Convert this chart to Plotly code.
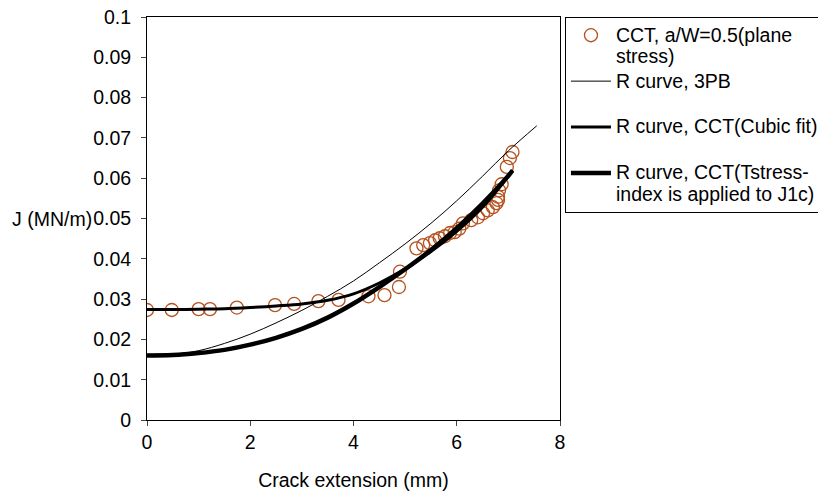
import plotly.graph_objects as go

# Measured data: CCT, a/W=0.5 (plane stress)
cct_x = [0.0, 0.48, 1.0, 1.22, 1.74, 2.48, 2.85, 3.32, 3.71, 4.29, 4.6, 4.88, 4.9,
         5.22, 5.35, 5.48, 5.58, 5.67, 5.77, 5.87, 5.96, 6.05, 6.12, 6.28, 6.41,
         6.51, 6.6, 6.7, 6.77, 6.8, 6.8, 6.82, 6.87, 6.97, 7.03, 7.08]
cct_j = [0.0273, 0.0273, 0.0275, 0.0275, 0.0279, 0.0285, 0.0288, 0.0295, 0.0298,
         0.0307, 0.0310, 0.0330, 0.0368, 0.0426, 0.0434, 0.0439, 0.0446, 0.0451,
         0.0456, 0.0464, 0.0466, 0.0475, 0.0488, 0.0496, 0.0503, 0.0513, 0.0520,
         0.0528, 0.0538, 0.0546, 0.0554, 0.0570, 0.0585, 0.0628, 0.0650, 0.0665]

# R curve, 3PB (thin line)
r3pb_x = [0.0, 0.5, 1.0, 1.5, 2.0, 2.5, 3.0, 3.5, 4.0, 4.5, 5.0, 5.5, 6.0, 6.5, 7.0, 7.55]
r3pb_j = [0.0160, 0.0163, 0.0172, 0.0190, 0.0213, 0.0241, 0.0272, 0.0307, 0.0345,
          0.0390, 0.0437, 0.0488, 0.0544, 0.0605, 0.0668, 0.0730]

# R curve, CCT (cubic fit)
rcub_x = [0.0, 0.5, 1.0, 1.5, 2.0, 2.5, 3.0, 3.5, 4.0, 4.5, 5.0, 5.5, 6.0, 6.5, 7.0, 7.08]
rcub_j = [0.0274, 0.0274, 0.0275, 0.0276, 0.0279, 0.0283, 0.0288, 0.0297, 0.0313,
          0.0340, 0.0375, 0.0418, 0.0468, 0.0528, 0.0605, 0.0620]

# R curve, CCT (T-stress index applied to J1c)
rts_x = [0.0, 0.5, 1.0, 1.5, 2.0, 2.5, 3.0, 3.5, 4.0, 4.5, 5.0, 5.5, 6.0, 6.5, 7.0, 7.08]
rts_j = [0.0160, 0.0161, 0.0166, 0.0174, 0.0187, 0.0204, 0.0226, 0.0254, 0.0289,
         0.0330, 0.0374, 0.0422, 0.0476, 0.0537, 0.0606, 0.0619]

x_ticks = [0, 2, 4, 6, 8]
y_ticks = [0, 0.01, 0.02, 0.03, 0.04, 0.05, 0.06, 0.07, 0.08, 0.09, 0.1]

FONT = "Liberation Sans, Arial, sans-serif"
fs = 19.5
leg_fs = 16.5


def leg(text):
    return '<span style="font-size:%spx">%s</span>' % (fs, text)


fig = go.Figure()
fig.add_trace(go.Scatter(
    x=cct_x, y=cct_j, mode="markers",
    name=leg("CCT, a/W=0.5(plane") + "<br>" + leg("stress)"),
    marker=dict(symbol="circle-open", size=13, color="#B5511F",
                line=dict(width=1.3, color="#B5511F")),
))
fig.add_trace(go.Scatter(
    x=r3pb_x, y=r3pb_j, mode="lines", line_shape="spline",
    name=leg("R curve, 3PB") + "<br> ",
    line=dict(color="black", width=1),
))
fig.add_trace(go.Scatter(
    x=rcub_x, y=rcub_j, mode="lines", line_shape="spline",
    name=leg("R curve, CCT(Cubic fit)") + "<br> ",
    line=dict(color="black", width=3),
))
fig.add_trace(go.Scatter(
    x=rts_x, y=rts_j, mode="lines", line_shape="spline",
    name=leg("R curve, CCT(Tstress-") + "<br>" + leg("index is applied to J1c)"),
    line=dict(color="black", width=4.5),
))

fig.update_layout(
    width=818, height=485,
    margin=dict(l=139, r=266, t=9, b=73, autoexpand=False),
    paper_bgcolor="white", plot_bgcolor="white",
    font=dict(family=FONT, size=fs, color="black"),
    showlegend=True,
    legend=dict(
        x=1.012, xanchor="left", y=1.0, yanchor="top",
        bordercolor="black", borderwidth=1, bgcolor="white",
        valign="top", tracegroupgap=0, itemwidth=40,
        entrywidth=300, entrywidthmode="pixels",
        font=dict(family=FONT, size=leg_fs, color="black"),
    ),
    xaxis=dict(
        range=[0, 8], tickvals=x_ticks, ticks="outside", ticklen=5,
        showline=True, linecolor="black", linewidth=1, mirror=True,
        showgrid=False, zeroline=False,
        title=dict(text="Crack extension (mm)", standoff=20,
                   font=dict(family=FONT, size=fs)),
        tickfont=dict(family=FONT, size=fs),
    ),
    yaxis=dict(
        range=[0, 0.1], tickvals=y_ticks, ticks="outside", ticklen=5,
        showline=True, linecolor="black", linewidth=1, mirror=True,
        showgrid=False, zeroline=False, ticklabelstandoff=6,
        ticklabeloverflow="allow",
        tickfont=dict(family=FONT, size=fs),
    ),
    annotations=[dict(
        text="J (MN/m)", xref="paper", yref="y", x=-0.128, y=0.05,
        xanchor="right", yanchor="middle", showarrow=False,
        font=dict(family=FONT, size=fs),
    )],
)

fig.write_html("out.html")
